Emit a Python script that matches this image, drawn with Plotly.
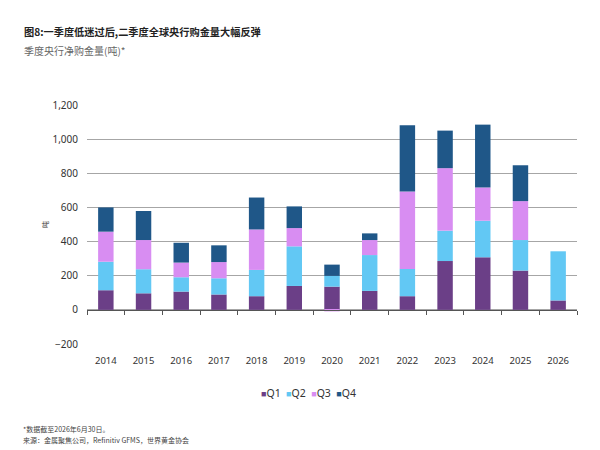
import plotly.graph_objects as go

years = ["2014", "2015", "2016", "2017", "2018", "2019", "2020",
         "2021", "2022", "2023", "2024", "2025", "2026"]
q1 = [115, 97, 107, 90, 80, 140, 136, 111, 80, 286, 308, 230, 55]
q2 = [167, 141, 84, 95, 154, 232, 63, 210, 160, 178, 214, 179, 288]
q3 = [176, 171, 86, 95, 237, 107, -9, 88, 453, 366, 195, 228, None]
q4 = [142, 170, 116, 98, 187, 127, 66, 39, 388, 220, 368, 210, None]

series = [("Q1", q1, "#6b3f87"), ("Q2", q2, "#62c8f4"),
          ("Q3", q3, "#d88df2"), ("Q4", q4, "#1f5788")]

cjk = "Noto Sans CJK SC"
narrow = "Liberation Sans Narrow, Noto Sans"

# plot area in figure pixels (page body adds 8px offset)
L, T, W, H = 79, 97, 490, 239

fig = go.Figure()
for name, vals, col in series:
    fig.add_trace(go.Bar(x=years, y=vals, name=name, marker_color=col,
                         marker_line_width=0, width=0.41, showlegend=False))

# dummy trace so the zero-line axis (ticks between categories) is drawn
fig.add_trace(go.Scatter(x=[], y=[], xaxis="x2", showlegend=False))

fig.update_layout(
    width=600, height=450,
    barmode="relative",
    plot_bgcolor="white", paper_bgcolor="white",
    margin=dict(l=L, r=600 - L - W, t=T, b=450 - T - H),
    font=dict(family=narrow, size=10, color="#333333"),
    xaxis=dict(type="category", range=[-0.5, 12.5], showline=False,
               showgrid=False, ticks="", ticklabelstandoff=9,
               tickfont=dict(family=narrow, size=9.5, color="#333333")),
    xaxis2=dict(overlaying="x", anchor="free", position=200 / 1400,
                range=[-0.5, 12.5], showline=True, linecolor="#555555",
                linewidth=1, ticks="outside", ticklen=4, tickcolor="#555555",
                tickvals=[i - 0.5 for i in range(14)], showticklabels=False,
                showgrid=False, zeroline=False),
    yaxis=dict(range=[-200, 1200], dtick=200, tickformat=",",
               showgrid=True, gridcolor="#a6a6a6", gridwidth=1,
               zeroline=False, ticks="", ticklabelstandoff=8,
               tickfont=dict(family=narrow, size=10, color="#333333"),
               title=dict(text="吨", font=dict(family=cjk, size=7, color="#333333"),
                          standoff=2)),
    showlegend=False,
    bargap=0.5,
)

# compact legend row like the original
legend_text = "  ".join(
    f"<span style='color:{col};font-size:9px'>■</span>{name}" for name, _, col in series)
fig.add_annotation(text=legend_text, xref="paper", yref="paper",
                   x=(300 - L) / W, y=(T + H - 385) / H,
                   xanchor="center", yanchor="middle", showarrow=False,
                   font=dict(family=narrow, size=10.5, color="#333333"))

fig.add_annotation(text="<b>图8:一季度低迷过后,二季度全球央行购金量大幅反弹</b>",
                   xref="paper", yref="paper", x=(14 - L) / W, y=(T + H - 24) / H,
                   xanchor="left", yanchor="middle", showarrow=False,
                   font=dict(family=cjk, size=10.2, color="#222222"))
fig.add_annotation(text="季度央行净购金量(吨)*",
                   xref="paper", yref="paper", x=(14 - L) / W, y=(T + H - 43) / H,
                   xanchor="left", yanchor="middle", showarrow=False,
                   font=dict(family=cjk, size=10, color="#666666"))
fig.add_annotation(text="*数据截至2026年6月30日。",
                   xref="paper", yref="paper", x=(13 - L) / W, y=(T + H - 421) / H,
                   xanchor="left", yanchor="middle", showarrow=False,
                   font=dict(family=cjk, size=7, color="#444444"))
fig.add_annotation(text="来源：金属聚焦公司，Refinitiv GFMS，世界黄金协会",
                   xref="paper", yref="paper", x=(13 - L) / W, y=(T + H - 432) / H,
                   xanchor="left", yanchor="middle", showarrow=False,
                   font=dict(family=cjk, size=7, color="#444444"))

fig.write_html("out.html")
